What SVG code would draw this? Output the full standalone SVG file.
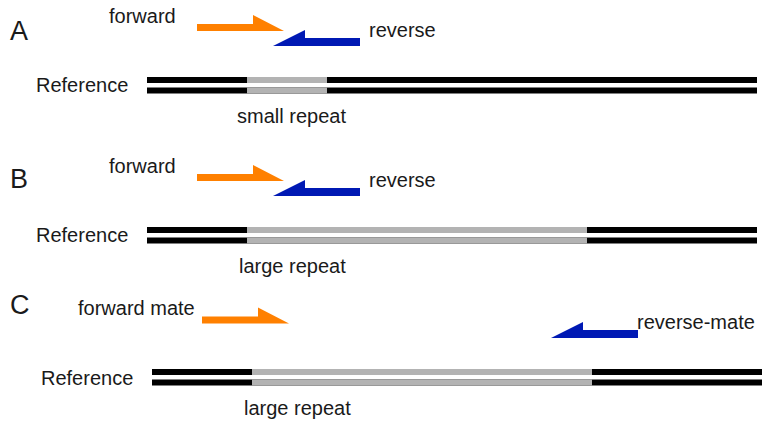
<svg xmlns="http://www.w3.org/2000/svg" width="767" height="423" viewBox="0 0 767 423">
<style>
text{font-family:"Liberation Sans",Arial,sans-serif;fill:#1a1a1a;font-size:20px}
.big{font-size:27px}
.blk{fill:#000}
.gry{fill:#b3b3b3}
.fwd{fill:#ff8000}
.rev{fill:#0019b4}
</style>
<defs>
<polygon id="fwdArrow" class="fwd" points="0,9 56,9 56,0 87,16 0,16"/>
<polygon id="revArrow" class="rev" points="0,16 32,0 32,8 87,8 87,16"/>
</defs>
<rect width="767" height="423" fill="#fff"/>
<g id="panelA">
<text class="big" x="10" y="40">A</text>
<g id="A-forward"><use href="#fwdArrow" x="197" y="15"/><text x="109" y="23">forward</text></g>
<g id="A-reverse"><use href="#revArrow" x="273" y="30"/><text x="369" y="37">reverse</text></g>
<g id="A-reference"><text x="36" y="92">Reference</text>
<rect class="blk" x="147" y="77" width="610" height="6"/><rect class="blk" x="147" y="87.5" width="610" height="6"/>
<rect class="gry" x="247" y="77" width="80" height="6"/><rect class="gry" x="247" y="87.5" width="80" height="6"/>
<text x="237" y="123">small repeat</text></g>
</g>
<g id="panelB">
<text class="big" x="10" y="188">B</text>
<g id="B-forward"><use href="#fwdArrow" x="197" y="165"/><text x="109" y="173">forward</text></g>
<g id="B-reverse"><use href="#revArrow" x="273" y="180"/><text x="369" y="187">reverse</text></g>
<g id="B-reference"><text x="36" y="242">Reference</text>
<rect class="blk" x="147" y="227" width="610" height="6"/><rect class="blk" x="147" y="237.5" width="610" height="6"/>
<rect class="gry" x="247" y="227" width="340" height="6"/><rect class="gry" x="247" y="237.5" width="340" height="6"/>
<text x="239" y="273">large repeat</text></g>
</g>
<g id="panelC">
<text class="big" x="10" y="314">C</text>
<g id="C-forward"><use href="#fwdArrow" x="202" y="307.5"/><text x="78" y="315">forward mate</text></g>
<g id="C-reverse"><use href="#revArrow" x="551" y="322"/><text x="637" y="329">reverse-mate</text></g>
<g id="C-reference"><text x="41" y="385">Reference</text>
<rect class="blk" x="152" y="369" width="610" height="6"/><rect class="blk" x="152" y="379.5" width="610" height="6"/>
<rect class="gry" x="252" y="369" width="340" height="6"/><rect class="gry" x="252" y="379.5" width="340" height="6"/>
<text x="244" y="415">large repeat</text></g>
</g>
</svg>
